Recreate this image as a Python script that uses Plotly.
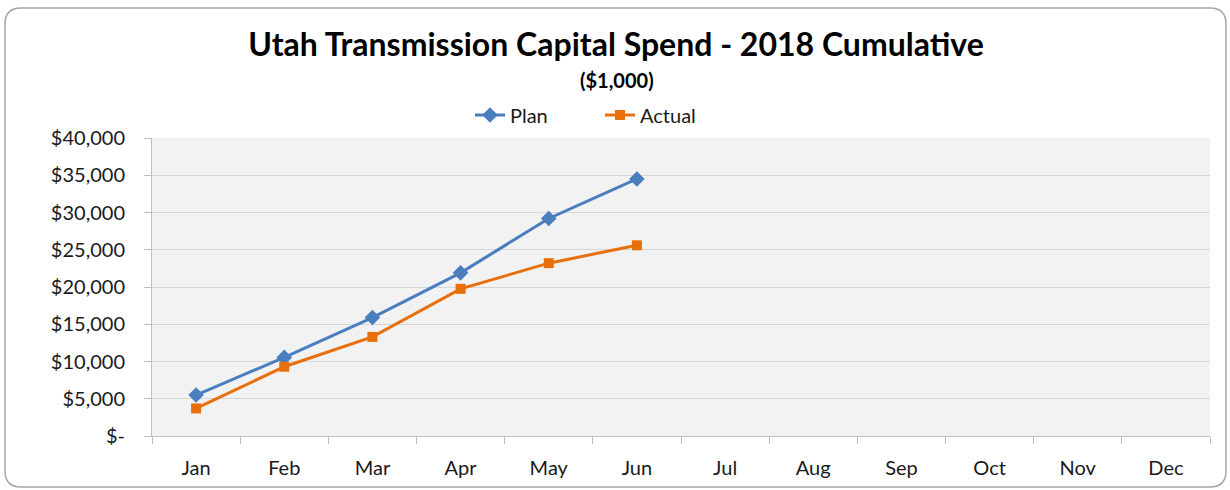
import plotly.graph_objects as go

months = ["Jan", "Feb", "Mar", "Apr", "May", "Jun", "Jul", "Aug", "Sep", "Oct", "Nov", "Dec"]
plan = [5500, 10550, 15900, 21900, 29200, 34500]
actual = [3700, 9300, 13300, 19750, 23200, 25600]
y_ticks = [0, 5000, 10000, 15000, 20000, 25000, 30000, 35000, 40000]
y_labels = ["$-", "$5,000", "$10,000", "$15,000", "$20,000", "$25,000", "$30,000", "$35,000", "$40,000"]

W, H = 1230, 490
L, R, T, B = 152, 20, 138, 54
PW, PH = W - L - R, H - T - B

BLUE = "#4a7ebf"
ORANGE = "#e8700c"
FONT = "Lato"


def px(x):
    return (x - L) / PW


def py(y):
    return (H - B - y) / PH


def rounded_box(x0, y0, x1, y1, r):
    # path in paper coords, corners rounded by r pixels
    return (
        f"M {px(x0 + r)} {py(y0)} L {px(x1 - r)} {py(y0)} "
        f"Q {px(x1)} {py(y0)} {px(x1)} {py(y0 + r)} "
        f"L {px(x1)} {py(y1 - r)} Q {px(x1)} {py(y1)} {px(x1 - r)} {py(y1)} "
        f"L {px(x0 + r)} {py(y1)} Q {px(x0)} {py(y1)} {px(x0)} {py(y1 - r)} "
        f"L {px(x0)} {py(y0 + r)} Q {px(x0)} {py(y0)} {px(x0 + r)} {py(y0)} Z"
    )


fig = go.Figure()
fig.add_trace(go.Scatter(
    x=months[:len(plan)], y=plan, name="Plan", mode="lines+markers",
    line=dict(color=BLUE, width=3),
    marker=dict(symbol="diamond", size=12, color=BLUE),
))
fig.add_trace(go.Scatter(
    x=months[:len(actual)], y=actual, name="Actual", mode="lines+markers",
    line=dict(color=ORANGE, width=3),
    marker=dict(symbol="square", size=10, color=ORANGE),
))

fig.update_layout(
    width=W, height=H,
    margin=dict(l=L, r=R, t=T, b=B),
    paper_bgcolor="white",
    plot_bgcolor="#f2f2f2",
    font=dict(family=FONT, size=20, color="#1a1a1a"),
    title=dict(
        text="<b>Utah Transmission Capital Spend - 2018 Cumulative</b>",
        x=616 / W, xanchor="center", y=1 - 45 / H, yanchor="middle",
        font=dict(family=FONT, size=32, color="black"),
    ),
    legend=dict(
        orientation="h", x=px(470), xanchor="left", y=py(115), yanchor="middle",
        font=dict(size=20), bgcolor="rgba(0,0,0,0)",
        entrywidth=85, entrywidthmode="pixels",
    ),
    showlegend=True,
    shapes=[dict(
        type="path", xref="paper", yref="paper",
        path=rounded_box(5, 8, 1226, 487, 16),
        line=dict(color="#a6a6a6", width=1.5),
    )],
    annotations=[dict(
        text="<b>($1,000)</b>", xref="paper", yref="paper",
        x=px(617), y=py(80),
        xanchor="center", yanchor="middle", showarrow=False,
        font=dict(family=FONT, size=20, color="black"),
    )],
)

fig.update_xaxes(
    type="category", categoryarray=months, categoryorder="array",
    range=[-0.5, len(months) - 0.5],
    showgrid=False, showline=True, linecolor="#bfbfbf", linewidth=1,
    ticks="outside", tickson="boundaries", ticklen=7, tickcolor="#bfbfbf",
    ticklabelstandoff=14,
)
fig.update_yaxes(
    range=[0, 40000], tickvals=y_ticks, ticktext=y_labels,
    showgrid=True, gridcolor="#d6d6d6", gridwidth=1,
    showline=True, linecolor="#bfbfbf", linewidth=1,
    ticks="outside", ticklen=7, tickcolor="#bfbfbf",
    ticklabelstandoff=15, zeroline=False,
)

# drop the page's default body margin so the figure sits at the window origin
fig.write_html(
    "out.html",
    config={"displayModeBar": False},
    post_script="document.body.style.margin='0';",
)
